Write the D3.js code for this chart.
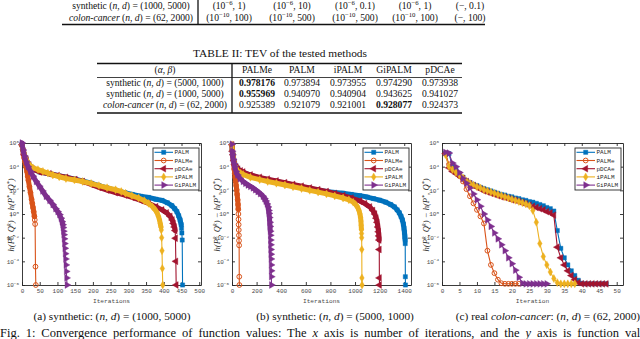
<!DOCTYPE html>
<html>
<head>
<meta charset="utf-8">
<script src="https://cdn.jsdelivr.net/npm/d3@7"></script>
<style>
  body { margin: 0; background: #fff; }
  svg { display: block; }
  text { white-space: pre; }
</style>
</head>
<body>
<svg id="fig" width="640" height="339"></svg>
<script>
// ---- data ----
var methods = ["PALM", "PALMe", "pDCAe", "iPALM", "GiPALM"];
var colors = ["#0072BD", "#D95319", "#A2142F", "#EDB120", "#7E2F8E"];

// table I (tail) and table II
var tab1Labels = ["synthetic (*n*, *d*) = (1000, 5000)", "*colon-cancer* (*n*, *d*) = (62, 2000)"];
var tab1Params = [
    ["(10^{−6}, 1)", "(10^{−6}, 10)", "(10^{−6}, 0.1)", "(10^{−6}, 1)", "(−, 0.1)"],
    ["(10^{−10}, 100)", "(10^{−10}, 500)", "(10^{−10}, 500)", "(10^{−10}, 100)", "(−, 100)"]
];
var tab2Header = ["(*α*, *β*)", "PALMe", "PALM", "iPALM", "GiPALM", "pDCAe"];
var tab2Labels = ["synthetic (*n*, *d*) = (5000, 1000)", "synthetic (*n*, *d*) = (1000, 5000)", "*colon-cancer* (*n*, *d*) = (62, 2000)"];
var tab2Values = [
    [0.978176, 0.973894, 0.973955, 0.974290, 0.973938],
    [0.955969, 0.940970, 0.940904, 0.943625, 0.941027],
    [0.925389, 0.921079, 0.921001, 0.928077, 0.924373]
];
var tab2Best = [0, 0, 3];

var yTickExps = [6, 4, 2, 0, -2, -4, -6];
var xTicksA = [0, 50, 100, 150, 200, 250, 300, 350, 400, 450, 500];
var xTicksB = [0, 200, 400, 600, 800, 1000, 1200, 1400];
var xTicksC = [0, 5, 10, 15, 20, 25, 30, 35, 40, 45, 50];

// (a) synthetic (1000,5000): [iteration, log10 of h(P^k,Q^k) - h(P*,Q*)]
var palmA = [[0,5.85],[6,5.0],[12,4.6],[20,4.15],[31,3.8],[50,3.55],[77,3.4],[100,3.25],[124,3.1],[150,2.95],[171,2.8],[195,2.6],[217,2.4],[240,2.2],[264,2.0],[290,1.8],[311,1.65],[335,1.5],[357,1.4],[378,1.25],[395,1.15],[410,0.95],[423,0.7],[431,0.45],[437,0.2],[442,-0.15],[446,-0.5],[449,-0.9],[450,-1.2],[451,-1.6],[452,-2.2],[453,-6]];
var palmeA = [[0,5.8],[2,5.45],[4,5.1],[6,4.75],[8,4.45],[10,4.2],[12,3.95],[14,3.6],[16,3.2],[18,2.85],[21,2.3],[24,1.8],[27,1.25],[29,0.9],[31,0.55],[33,0.2],[35,-0.2],[36,-0.5],[37,-0.85],[38,-4.45],[39,-6]];
var pdcaeA = [[0,5.85],[6,5.0],[12,4.6],[20,4.15],[31,3.8],[50,3.55],[77,3.4],[100,3.25],[124,3.1],[150,2.92],[171,2.75],[195,2.5],[217,2.25],[240,2.02],[264,1.8],[290,1.6],[311,1.4],[335,1.15],[357,0.9],[378,0.62],[395,0.35],[408,0.1],[418,-0.2],[424,-0.5],[427,-0.8],[430,-1.1],[432,-1.4],[433,-2.05],[434,-4.0],[435,-6]];
var ipalmA = [[0,5.85],[4,5.3],[7,5.0],[12,4.6],[17,4.3],[24,4.05],[31,3.9],[45,3.75],[59,3.6],[73,3.45],[87,3.3],[105,3.15],[124,3.0],[148,2.88],[171,2.75],[195,2.58],[217,2.4],[240,2.22],[264,2.05],[280,1.9],[292,1.75],[310,1.55],[329,1.35],[345,1.12],[357,0.9],[368,0.62],[376,0.35],[381,0.1],[385,-0.2],[388,-0.5],[390,-0.8],[392,-1.1],[393,-1.35],[394,-2.0],[395,-3.1],[396,-4.6],[397,-6]];
var gipalmA = [[0,6.0],[3,5.4],[7,4.9],[12,4.4],[17,4.0],[24,3.6],[31,3.2],[40,2.75],[49,2.35],[58,1.95],[68,1.5],[78,1.15],[87,0.8],[95,0.45],[101,0.2],[106,-0.05],[110,-0.35],[113,-0.65],[115,-0.9],[116,-1.15],[117,-1.45],[118,-1.75],[119,-2.1],[120,-2.5],[121,-2.9],[122,-3.35],[123,-3.8],[124,-4.3],[125,-4.85],[126,-5.4],[127,-6]];

// (b) synthetic (5000,1000)
var palmB = [[0,5.85],[3,5.3],[8,5.0],[15,4.55],[22,4.2],[35,3.95],[49,3.75],[70,3.6],[90,3.5],[150,3.28],[225,3.05],[290,2.9],[361,2.75],[430,2.6],[496,2.45],[565,2.3],[632,2.15],[700,2.02],[768,1.9],[835,1.82],[903,1.75],[970,1.65],[1039,1.55],[1100,1.43],[1150,1.3],[1200,1.17],[1250,1.0],[1290,0.8],[1320,0.6],[1342,0.35],[1360,0.1],[1374,-0.2],[1385,-0.5],[1393,-0.85],[1398,-1.2],[1402,-1.55],[1405,-1.9],[1407,-2.2],[1408,-2.5],[1409,-5.3],[1410,-6]];
var palmeB = [[0,5.8],[3,5.4],[6,5.0],[10,4.6],[14,4.2],[18,3.8],[22,3.45],[26,3.1],[30,2.75],[34,2.4],[38,2.05],[42,1.65],[46,1.2],[49,0.8],[51,0.4],[52,0.0],[53,-0.45],[54,-0.9],[55,-1.35],[56,-1.8],[57,-2.25],[58,-2.65],[59,-5.3],[60,-6]];
var pdcaeB = [[0,5.85],[3,5.3],[8,5.0],[15,4.5],[22,4.2],[35,3.95],[49,3.8],[70,3.65],[90,3.55],[150,3.3],[225,3.1],[290,2.95],[361,2.8],[430,2.65],[496,2.5],[565,2.35],[632,2.2],[700,2.05],[768,1.9],[835,1.73],[903,1.55],[970,1.35],[1039,1.1],[1080,0.88],[1120,0.6],[1145,0.3],[1161,0.0],[1172,-0.35],[1180,-0.7],[1186,-1.1],[1191,-1.5],[1194,-1.85],[1196,-2.2],[1197,-3.0],[1198,-5.4],[1199,-6]];
var ipalmB = [[0,5.85],[3,5.3],[8,4.95],[15,4.4],[22,4.1],[35,3.8],[49,3.6],[70,3.45],[90,3.35],[150,3.1],[225,2.9],[290,2.75],[361,2.6],[430,2.45],[496,2.3],[565,2.15],[632,2.0],[700,1.85],[768,1.7],[835,1.53],[903,1.35],[950,1.2],[985,1.0],[1005,0.8],[1020,0.6],[1032,0.3],[1040,0.0],[1045,-0.3],[1048,-0.6],[1050,-0.95],[1052,-1.3],[1053,-1.65],[1054,-2.0],[1055,-3.0],[1056,-5.4],[1057,-6]];
var gipalmB = [[0,5.9],[2,5.3],[5,5.0],[10,4.6],[16,4.25],[22,4.0],[33,3.6],[45,3.3],[65,3.0],[90,2.75],[110,2.6],[130,2.45],[150,2.33],[171,2.2],[190,2.05],[210,1.9],[230,1.72],[252,1.5],[265,1.3],[275,1.1],[285,0.85],[293,0.6],[298,0.3],[301,0.05],[304,-0.3],[307,-0.7],[309,-1.05],[311,-1.45],[312,-1.8],[313,-2.2],[314,-2.6],[315,-3.0],[316,-3.4],[317,-3.8],[318,-4.3],[319,-4.8],[320,-5.3],[321,-6]];

// (c) colon-cancer: log10 gap at iterations 1, 2, 3, ...
var palmC = [5.15,5.1,4.0,3.7,3.4,3.1,2.8,2.65,2.5,2.4,2.25,2.15,2.05,1.95,1.85,1.75,1.65,1.6,1.5,1.45,1.35,1.3,1.2,1.15,1.05,1.0,0.9,0.8,0.7,0.55,0.45,0.25,-1.4,-2.9,-3.7,-4.3,-4.8,-5.2,-5.6,-5.85,-5.9,-5.9,-5.9,-5.9,-5.9,-5.9,-5.9];
var palmeC = [5.1,4.2,3.8,3.5,3.2,2.75,2.1,1.5,0.9,0.35,-0.2,-0.8,-3.1,-4.3,-5.0,-5.55,-5.85,-5.9,-5.9,-5.9,-5.9,-5.9];
var pdcaeC = [5.1,3.9,3.6,3.4,3.2,3.0,2.75,2.55,2.4,2.25,2.1,1.95,1.85,1.75,1.65,1.55,1.45,1.4,1.3,1.2,1.15,1.05,0.95,0.85,0.75,0.65,0.55,0.45,0.35,0.2,0.1,-0.1,-2.8,-3.7,-4.3,-4.8,-5.2,-5.55,-5.8,-5.9,-5.9,-5.9,-5.9,-5.9,-5.9,-5.9,-5.9];
var ipalmC = [5.0,4.0,3.75,3.5,3.3,3.05,2.8,2.6,2.45,2.3,2.2,2.05,1.95,1.85,1.75,1.65,1.55,1.45,1.35,1.25,1.15,1.05,0.95,0.85,0.7,0.3,-0.7,-2.5,-3.6,-4.3,-4.9,-5.45,-5.8,-5.9,-5.9,-5.9,-5.9,-5.9];
var gipalmC = [5.2,5.15,4.3,4.0,3.5,3.0,2.6,2.2,1.7,1.2,0.65,0.0,-0.5,-1.05,-1.6,-2.1,-2.6,-3.1,-3.7,-4.2,-4.75,-5.35,-5.85,-5.9,-5.9,-5.9,-5.9,-5.9,-5.9,-5.9];

var captions = [
    "(a) synthetic: (*n*, *d*) = (1000, 5000)",
    "(b) synthetic: (*n*, *d*) = (5000, 1000)",
    "(c) real *colon-cancer*: (*n*, *d*) = (62, 2000)"
];
var figCaption = "Fig. 1: Convergence performance of function values: The *x* axis is number of iterations, and the *y* axis is function values.";

// ---- drawing ----
var svg = d3.select("#fig");
var serif = "'Liberation Serif', 'Times New Roman', serif";
var mono = "'Liberation Mono', 'DejaVu Sans Mono', monospace";
var ink = "#262626";

// text with *italic*, **bold** and ^{sup}
function rich(parent, x, y, str, fs, anchor) {
    var t = parent.append("text")
        .attr("x", x).attr("y", y)
        .attr("text-anchor", anchor || "middle")
        .attr("font-family", serif)
        .attr("font-size", fs)
        .attr("fill", "#111");
    var re = /\*\*([^*]+)\*\*|\*([^*]+)\*|\^\{([^}]+)\}/g;
    var last = 0, m, up = false;
    function add(txt, st) {
        var s = t.append("tspan").text(txt);
        if (st.b) s.attr("font-weight", "bold");
        if (st.i) s.attr("font-style", "italic");
        if (st.sup) {
            s.attr("font-size", fs * 0.7).attr("dy", -fs * 0.38);
            up = true;
        } else if (up) {
            s.attr("dy", fs * 0.38);
            up = false;
        }
    }
    while ((m = re.exec(str))) {
        if (m.index > last) add(str.slice(last, m.index), {});
        if (m[1]) add(m[1], { b: 1 });
        else if (m[2]) add(m[2], { i: 1 });
        else add(m[3], { sup: 1 });
        last = re.lastIndex;
    }
    if (last < str.length) add(str.slice(last), {});
    return t;
}

function hline(x1, x2, y, w) {
    svg.append("line").attr("x1", x1).attr("x2", x2).attr("y1", y).attr("y2", y)
        .attr("stroke", "#111").attr("stroke-width", w);
}
function vline(x, y1, y2, w) {
    svg.append("line").attr("x1", x).attr("x2", x).attr("y1", y1).attr("y2", y2)
        .attr("stroke", "#111").attr("stroke-width", w);
}

var tfs = 9.6;

// table I tail
var t1Cols = [131, 229, 292, 355, 415, 470];
var t1Rows = [9, 20.5];
tab1Labels.forEach(function (lab, r) {
    rich(svg, t1Cols[0], t1Rows[r], lab, tfs);
    tab1Params[r].forEach(function (v, c) {
        rich(svg, t1Cols[c + 1], t1Rows[r], v, tfs);
    });
});
vline(198, 0, 24.5, 1.3);
hline(62, 485, 24.5, 1.5);

// table II
rich(svg, 280, 57, "TABLE II: TEV of the tested methods", 11.4);
var t2Cols = [165, 257, 302, 348, 394, 440];
hline(97, 462, 63.5, 1.5);
tab2Header.forEach(function (h, c) { rich(svg, t2Cols[c], 73.3, h, tfs); });
hline(97, 462, 77.5, 0.8);
var t2Rows = [86.3, 97.3, 108.3];
tab2Labels.forEach(function (lab, r) {
    rich(svg, t2Cols[0], t2Rows[r], lab, tfs);
    tab2Values[r].forEach(function (v, c) {
        var s = v.toFixed(6);
        rich(svg, t2Cols[c + 1], t2Rows[r], tab2Best[r] === c ? "**" + s + "**" : s, tfs);
    });
});
hline(97, 462, 113, 1.5);
vline(232, 63.5, 113, 1.3);

// charts
var yTop = 143, yBot = 285;
var toPairs = function (arr) { return arr.map(function (e, i) { return [i + 1, e]; }); };
var panels = [
    { x0: 22, x1: 201, xmax: 505, ticks: xTicksA, xlabel: "Iterations", ylabX: 11, capX: 112,
      data: [palmA, palmeA, pdcaeA, ipalmA, gipalmA] },
    { x0: 232, x1: 411, xmax: 1455, ticks: xTicksB, xlabel: "Iterations", ylabX: 217, capX: 335,
      data: [palmB, palmeB, pdcaeB, ipalmB, gipalmB] },
    { x0: 442, x1: 623, xmax: 51.8, ticks: xTicksC, xlabel: "Iteration", ylabX: 426, capX: 548,
      data: [palmC, palmeC, pdcaeC, ipalmC, gipalmC].map(toPairs) }
];

var symTypes = [d3.symbolSquare, d3.symbolCircle, d3.symbolTriangle, d3.symbolDiamond, d3.symbolTriangle];
var symRot = [0, 0, -90, 0, 90];
var symSize = [18, 18, 20, 18, 20];
var symHollow = [false, true, false, false, false];

function marker(g, k, px, py) {
    var p = g.append("path")
        .attr("d", d3.symbol().type(symTypes[k]).size(symSize[k])())
        .attr("transform", "translate(" + px + "," + py + ") rotate(" + symRot[k] + ")");
    if (symHollow[k]) p.attr("fill", "none").attr("stroke", colors[k]).attr("stroke-width", 1);
    else p.attr("fill", colors[k]).attr("stroke", colors[k]).attr("stroke-width", 0.4);
}

panels.forEach(function (p, pi) {
    var x = d3.scaleLinear().domain([0, p.xmax]).range([p.x0, p.x1]);
    var y = d3.scaleLog().domain([1e-6, 1e6]).range([yBot, yTop]);
    var yTicks = yTickExps.map(function (e) { return Math.pow(10, e); });
    var g = svg.append("g");

    function styleAxis(sel) {
        sel.attr("font-family", mono).attr("font-size", 6);
        sel.selectAll("path, line").attr("stroke", ink).attr("stroke-width", 0.9);
        sel.selectAll("text").attr("fill", "#4a4a4a");
    }
    g.append("g").attr("transform", "translate(0," + yBot + ")")
        .call(d3.axisBottom(x).tickValues(p.ticks).tickFormat(d3.format("d"))
            .tickSizeInner(-3).tickSizeOuter(0).tickPadding(4))
        .call(styleAxis);
    g.append("g").attr("transform", "translate(0," + yTop + ")")
        .call(d3.axisTop(x).tickValues(p.ticks).tickSizeInner(-3).tickSizeOuter(0).tickFormat(""))
        .call(styleAxis);
    var yl = g.append("g").attr("transform", "translate(" + p.x0 + ",0)")
        .call(d3.axisLeft(y).tickValues(yTicks).tickSizeInner(-3).tickSizeOuter(0).tickPadding(3))
        .call(styleAxis);
    yl.selectAll(".tick text").each(function (d) {
        var e = Math.round(Math.log10(d));
        var t = d3.select(this).text("");
        t.append("tspan").text("10");
        t.append("tspan").attr("dy", -2.5).attr("font-size", 4.3).text(e < 0 ? "−" + (-e) : String(e));
    });
    g.append("g").attr("transform", "translate(" + p.x1 + ",0)")
        .call(d3.axisRight(y).tickValues(yTicks).tickSizeInner(-3).tickSizeOuter(0).tickFormat(""))
        .call(styleAxis);

    // axis titles
    g.append("text").attr("x", (p.x0 + p.x1) / 2).attr("y", 303)
        .attr("text-anchor", "middle").attr("font-family", mono).attr("font-size", 6.2)
        .attr("fill", "#4a4a4a").text(p.xlabel);
    var yt = rich(g, 0, 0, "h(P^{k}, Q^{k}) − h(P^{*}, Q^{*})", 8.6);
    yt.attr("transform", "translate(" + (p.ylabX + 3) + ",215) rotate(-90)")
        .attr("fill", ink).attr("font-style", "italic");

    // series: markers at every iteration merge into a band where they crowd
    var line = d3.line();
    p.data.forEach(function (ser, k) {
        var pts = ser.map(function (d) { return [x(d[0]), y(Math.pow(10, d[1])), d[0]]; });
        g.append("path").attr("d", line(pts)).attr("fill", "none")
            .attr("stroke", colors[k]).attr("stroke-width", 1.1);
        var run = [];
        var flush = function () {
            if (run.length > 1) {
                g.append("path").attr("d", line(run)).attr("fill", "none")
                    .attr("stroke", colors[k]).attr("stroke-width", 5)
                    .attr("stroke-linejoin", "round").attr("stroke-linecap", "round");
            }
            run = [];
        };
        for (var i = 1; i < pts.length; i++) {
            var a = pts[i - 1], b = pts[i];
            var step = Math.hypot(b[0] - a[0], b[1] - a[1]) / (b[2] - a[2]);
            if (step < 2.5) {
                if (!run.length) run.push(a);
                run.push(b);
            } else flush();
        }
        flush();
        pts.forEach(function (q) { marker(g, k, q[0], q[1]); });
    });

    // legend
    var lx = p.x1 - 48, ly = 148;
    g.append("rect").attr("x", lx).attr("y", ly).attr("width", 46).attr("height", 42)
        .attr("fill", "#fff").attr("stroke", ink).attr("stroke-width", 0.9);
    methods.forEach(function (name, k) {
        var yy = ly + 4.3 + k * 8.2;
        g.append("line").attr("x1", lx + 1.5).attr("x2", lx + 20).attr("y1", yy).attr("y2", yy)
            .attr("stroke", colors[k]).attr("stroke-width", 1.1);
        marker(g, k, lx + 10.7, yy);
        g.append("text").attr("x", lx + 21.5).attr("y", yy + 2)
            .attr("font-family", mono).attr("font-size", 6).attr("fill", ink).text(name);
    });

    rich(svg, p.capX, 320, captions[pi], 11.3);
});

rich(svg, 0, 337, figCaption, 12.5, "start").attr("word-spacing", 2.8);
</script>
</body>
</html>
